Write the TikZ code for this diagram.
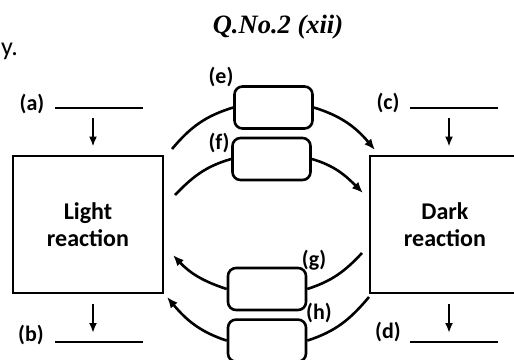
\documentclass[tikz,border=0pt]{standalone}
\usepackage{fontspec}
\setsansfont{Carlito}
\newfontfamily\titlefont{Liberation Serif}
\usepackage{tikz}
\usetikzlibrary{arrows.meta,positioning}
\tikzstyle{reactbox} = [draw, line width=2.8pt, minimum width=150pt, minimum height=137pt, inner sep=0pt, align=center, font=\sffamily\bfseries\fontsize{24}{27}\selectfont]
\tikzstyle{slotbox} = [draw, line width=2.6pt, rounded corners=8pt, minimum width=78pt, minimum height=42pt, inner sep=0pt]
\tikzstyle{tag} = [inner sep=0pt, font=\sffamily\bfseries\fontsize{22}{24}\selectfont]
\tikzstyle{blank} = [line width=2.2pt]
\tikzstyle{loopline} = [line width=2.6pt]
\tikzstyle{feed} = [-{Latex[length=11pt,width=9pt]}, line width=2.6pt]
\tikzstyle{inlet} = [-{Latex[length=10pt,width=8pt]}, line width=2.2pt]

\begin{document}
\begin{tikzpicture}[x=1pt, y=1pt]
\useasboundingbox (0,0) rectangle (514,-359);
\clip (0,0) rectangle (514,-359);

% heading
\node[anchor=base, inner sep=0pt, font=\titlefont\bfseries\itshape\fontsize{26.5}{30}\selectfont] (title) at (278,-33) {Q.No.2 (xii)};
\node[anchor=base west, inner sep=0pt, font=\sffamily\fontsize{26}{28}\selectfont] (cut) at (1,-55) {y.};

% the two reactions
\node[reactbox] (light) at (88,-224.5) {Light\\reaction};
\node[reactbox] (dark) at (445,-224.5) {Dark\\reaction};

% empty boxes between them
\node[slotbox] (e) at (273.5,-107.5) {};
\node[slotbox] (f) at (271.5,-159) {};
\node[slotbox] (g) at (267,-289) {};
\node[slotbox, below=7pt of g] (h) {};

\node[tag] (tage) at (221,-77) {(e)};
\node[tag] (tagf) at (219,-143) {(f)};
\node[tag] (tagg) at (314,-260) {(g)};
\node[tag] (tagh) at (319,-313) {(h)};

% blanks (a)-(d)
\foreach \t/\tx/\ty/\lx/\ly in {a/32/-104/55/-108, b/31/-335/55/-342, c/388/-103/410/-108, d/388/-332/410/-342} {
  \node[tag] (tag\t) at (\tx,\ty) {(\t)};
  \coordinate (blank\t) at (\lx,\ly);
  \draw[blank] (blank\t) -- ++(88,0);
}
\coordinate (inA) at (93,-118);
\coordinate (outB) at (93,-333);
\coordinate (inC) at (449,-118);
\coordinate (outD) at (449,-333);
\draw[inlet, shorten >=8pt] (inA) -- (inA |- light.north);
\draw[inlet, shorten <=10pt] (light.south -| outB) -- (outB);
\draw[inlet, shorten >=8pt] (inC) -- (inC |- dark.north);
\draw[inlet, shorten <=10pt] (dark.south -| outD) -- (outD);

% arcs
\coordinate (eL) at (172,-149);
\coordinate (eR) at (375,-150);
\coordinate (fL) at (175,-195);
\coordinate (fR) at (363,-193);
\coordinate (gL) at (173,-255);
\coordinate (gR) at (362,-253);
\coordinate (hL) at (167,-297);
\coordinate (hR) at (369,-297);

\draw[loopline] (eL) to[out=50,in=197] (e.west);
\draw[feed] (e.east) to[out=-17,in=130] (eR);
\draw[loopline] (fL) to[out=46,in=196] (f.west);
\draw[feed] (f.east) to[out=-16,in=135] (fR);
\draw[feed] (g.west) to[out=162,in=-47] (gL);
\draw[loopline] (g.east) to[out=18,in=-133] (gR);
\draw[feed] (h.west) to[out=162,in=-50] (hL);
\draw[loopline] (h.east) to[out=18,in=-130] (hR);
\end{tikzpicture}
\end{document}
